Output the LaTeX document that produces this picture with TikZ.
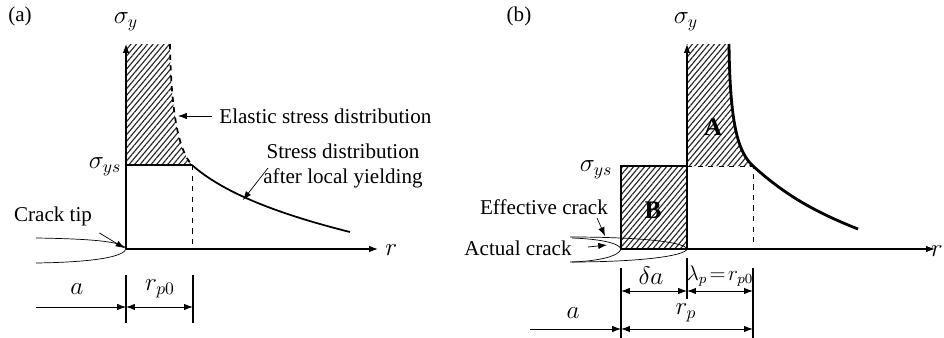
\documentclass[12pt,tikz,border=0pt]{standalone}
\usepackage{fontspec}
\setmainfont{Liberation Serif}
\usetikzlibrary{arrows.meta,patterns.meta}

\begin{document}
\begin{tikzpicture}[x=0.02cm, y=-0.02cm, >={Latex[length=5pt,width=3.6pt]},
  axis/.style={->, line width=0.6pt},
  curve/.style={line width=1pt},
  hatch/.style={pattern={Lines[angle=50,distance=2.4pt,line width=0.65pt]}, pattern color=black!85},
  tickline/.style={line width=1.1pt},
  dim/.style={<->, line width=0.5pt},
  sym/.style={font=\large}]
\useasboundingbox (0,0) rectangle (944,338);

% ---- (a) elastic vs. yielded stress
\node (tagA) at (20,16) {(a)};
\coordinate (oA) at (126,249);
\coordinate (yA) at (192,165);
\fill[hatch] (126,44) -- (170,44) .. controls (171,110) and (178,150) .. (yA) -- (126,165) -- cycle;
\draw[dashed, curve] (170,44) .. controls (171,110) and (178,150) .. (yA);
\draw[line width=1.2pt] (126,165) -- (yA);
\draw[curve] (yA) .. controls (220,190) and (270,212) .. (350,232);
\draw[dashed] (yA) -- (yA |- oA);
\draw (36,238) .. controls (105,239) and (124,243) .. (oA) .. controls (124,255) and (105,262) .. (36,263);
\draw[axis] (oA) -- (126,44);
\draw[axis] (oA) -- (378,249);
\node[sym] (sigyA) at (126,22) {$\sigma_y$};
\node[sym] (sigysA) at (105,167) {$\sigma_{ys}$};
\node[sym, anchor=west] (rA) at (378,250) {$r$};

\node[anchor=west] (elastic) at (212,116) {Elastic stress distribution};
\draw[->] (elastic.west) -- (178,116);
\node[align=center] (yield) at (343,166) {Stress distribution\\after local yielding};
\coordinate (yieldtail) at (268,168);
\draw[->] (yieldtail) -- (243,200);
\node (tiplbl) at (53,216) {Crack tip};
\draw[->, shorten >=1pt] (tiplbl.south east) -- (oA);

% dimensions (a)
\draw[tickline] (126,275) -- (126,323);
\draw[tickline] (193,275) -- (193,323);
\draw[->] (36,307) -- (126,307);
\draw[dim] (126,307) -- (193,307);
\node[sym] (aA) at (77,289) {$a$};
\node[sym] (rp0A) at (160,289) {$r_{p0}$};

% ---- (b) effective crack
\node (tagB) at (519,16) {(b)};
\coordinate (oB) at (687,249);
\coordinate (yB) at (753,166);
\fill[hatch] (687,44) -- (729,44) .. controls (730,125) and (738,152) .. (yB) -- (687,166) -- cycle;
\filldraw[hatch, draw=black, line width=0.6pt] (621,249) rectangle (687,166);
\draw[line width=1.6pt] (729,44) .. controls (730,125) and (738,152) .. (yB) .. controls (785,195) and (815,212) .. (858,229);
\draw[dashed] (687,166) -- (yB) -- (yB |- oB);
% effective and actual crack
\draw (570,237) .. controls (640,237) and (685,242) .. (oB) .. controls (685,256) and (640,262) .. (570,262);
\draw (572,238) .. controls (600,239) and (619,243) .. (621,249) .. controls (619,256) and (600,261) .. (572,262);
\draw[axis] (oB) -- (687,44);
\draw[axis] (621,249) -- (935,249);
\node[sym] (sigyB) at (686,22) {$\sigma_y$};
\node[sym] (sigysB) at (596,170) {$\sigma_{ys}$};
\node[sym, anchor=east, inner sep=0.5pt] (rB) at (944,251) {$r$};
\node (A) at (713,127) {\large\bfseries A};
\node (B) at (653,210) {\large\bfseries B};

\node (efflbl) at (544,207) {Effective crack};
\draw[->] (597,218) -- (605,236);
\node (actlbl) at (518,248) {Actual crack};
\draw[->] (588,247) -- (607,245);

% dimensions (b)
\draw[tickline] (621,268) -- (621,338);
\draw[tickline] (687,258) -- (687,299);
\draw[tickline] (753,268) -- (753,338);
\draw[dim] (621,291) -- (687,291);
\draw[dim] (687,291) -- (753,291);
\draw[->] (530,329) -- (621,329);
\draw[dim] (621,329) -- (753,329);
\node[sym] (da) at (651,276) {$\delta a$};
\node (lam) at (720,276) {$\lambda_p\!=\!r_{p0}$};
\node[sym] (aB) at (573,313) {$a$};
\node[sym] (rpB) at (686,313) {$r_p$};
\end{tikzpicture}
\end{document}
